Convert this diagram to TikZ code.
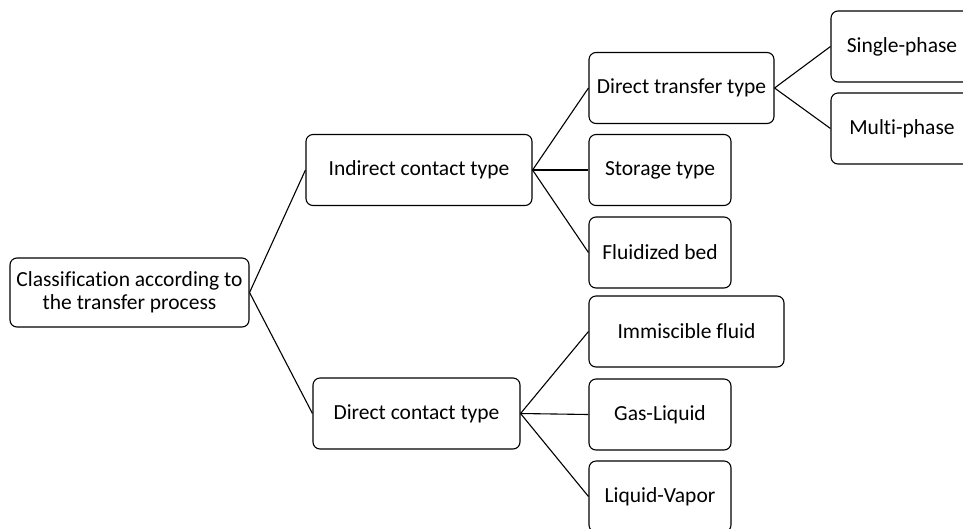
\documentclass[tikz,border=0pt]{standalone}
\usepackage{fontspec}
\setmainfont{Carlito}[Ligatures={NoCommon}]
\usepackage{tikz}
\usetikzlibrary{positioning}

\begin{document}
\begin{tikzpicture}[x=1pt,y=-1pt,line width=1.1pt]
\tikzset{box/.style = {draw, rounded corners=7pt, inner sep=0pt,
  align=center, minimum height=71pt, font=\fontsize{21.5}{23}\selectfont}}
\tikzset{small/.style = {box, minimum width=142pt}}
\clip (0,0) rectangle (963,528);
% boxes
\node[box, minimum width=239pt, minimum height=69pt] (root) at (129.5,292.5) {Classification according to\\the transfer process};
\node[box, minimum width=226pt] (ind) at (419,170) {Indirect contact type};
\node[box, minimum width=207pt] (dir) at (416.5,413.5) {Direct contact type};
\node[box, minimum width=185pt] (dtt) at (681.5,88) {Direct transfer type};
\node[small] (sto) at (660,170) {Storage type};
\node[small] (flu) at (660,252.5) {Fluidized bed};
\node[box, minimum width=195pt] (imm) at (686.5,331.5) {Immiscible fluid};
\node[small] (gas) at (660,414.5) {Gas-Liquid};
\node[small] (liq) at (660,496.5) {Liquid-Vapor};
\node[small] (sin) at (902,46.5) {Single-phase};
\node[small] (mul) at (902,128.5) {Multi-phase};
% lines
\draw (root.east) -- (ind.west);
\draw (root.east) -- (dir.west);
\draw (ind.east) -- (dtt.west);
\draw (ind.east) -- (sto.west);
\draw (ind.east) -- (flu.west);
\draw (dir.east) -- (imm.west);
\draw (dir.east) -- (gas.west);
\draw (dir.east) -- (liq.west);
\draw (dtt.east) -- (sin.west);
\draw (dtt.east) -- (mul.west);
\end{tikzpicture}
\end{document}
